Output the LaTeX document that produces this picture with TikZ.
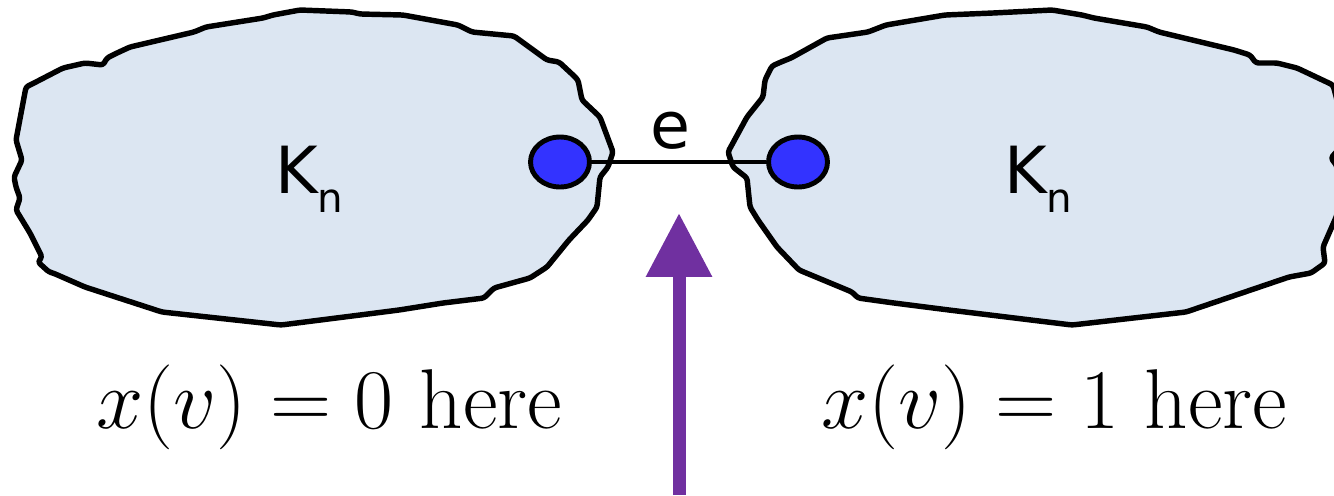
\documentclass[tikz,border=0pt]{standalone}
\usepackage{fix-cm}
\usepackage{fontspec}
\newfontfamily\dejavu{DejaVu Sans}
\usetikzlibrary{arrows.meta,shapes.geometric}
\definecolor{blobfill}{HTML}{DCE6F2}
\definecolor{dotblue}{HTML}{3333FF}
\definecolor{arrowpurple}{HTML}{7030A0}
\begin{document}
\begin{tikzpicture}[x=0.02cm,y=-0.02cm,
  blob/.style={fill=blobfill, draw=black, line width=3.1pt, line join=round, rounded corners=1.5pt},
  vertex/.style={ellipse, draw=black, fill=dotblue, line width=2.8pt, minimum width=1.18cm, minimum height=1.0cm, inner sep=0pt},
  edgeline/.style={draw=black, line width=2.4pt},
  knlabel/.style={inner sep=0pt, anchor=base west, font=\dejavu\fontsize{37}{40}\selectfont},
  mathlabel/.style={inner sep=0pt, anchor=base west, font=\fontsize{48.3}{52}\selectfont},
  pointer/.style={draw=arrowpurple, fill=arrowpurple, line width=0.26cm, -{Triangle[length=1.28cm, width=1.26cm]}}]
\useasboundingbox (0,0) rectangle (1334,495);
% left blob
\draw[blob] (273,15) -- (300,10) -- (352,12) -- (360,14) -- (403,15) -- (458,25) -- (472,32) -- (514,36)
  -- (547,60) -- (559,62) -- (573,75) -- (578,80) -- (582,100) -- (600,117) -- (613,152) -- (608,167)
  -- (600,177) -- (597,207) -- (588,220) -- (569,240) -- (547,267) -- (530,278) -- (494,288) -- (484,298)
  -- (443,303) -- (399,310) -- (360,315) -- (281,325) -- (162,312) -- (85,287) -- (53,273) -- (49,272)
  -- (38,262) -- (42,257) -- (30,233) -- (16,210) -- (20,198) -- (16,187) -- (14,177) -- (22,160)
  -- (16,140) -- (26,87) -- (34,83) -- (63,68) -- (85,63) -- (103,65) -- (107,58) -- (117,53) -- (130,47)
  -- (194,32) -- (206,27) -- (263,18) -- cycle;
% right blob
\draw[blob] (993,13) -- (1052,10) -- (1082,15) -- (1094,18) -- (1147,27) -- (1159,32) -- (1234,50)
  -- (1250,55) -- (1256,63) -- (1277,63) -- (1297,68) -- (1333,85) -- (1337,100) -- (1338,150)
  -- (1331,158) -- (1337,166) -- (1337,215) -- (1323,247) -- (1325,263) -- (1311,273) -- (1289,277)
  -- (1186,312) -- (1072,325) -- (949,310) -- (894,303) -- (858,298) -- (852,292) -- (799,270)
  -- (777,247) -- (758,220) -- (750,207) -- (747,178) -- (733,167) -- (728,152) -- (747,117)
  -- (763,97) -- (765,80) -- (772,66) -- (781,62) -- (791,58) -- (827,38) -- (868,32) -- (886,25)
  -- (945,15) -- cycle;
% vertices and edge
\node[vertex] (dotL) at (560,162) {};
\node[vertex] (dotR) at (798,162) {};
\draw[edgeline] (dotL.east) -- (dotR.west);
\node[knlabel] (elabel) at (650,148) {e};
% K_n labels
\node[knlabel] (knL) at (275,193) {K\raisebox{-0.38cm}{\fontsize{23}{26}\selectfont n}};
\node[knlabel] (knR) at (1004,193) {K\raisebox{-0.38cm}{\fontsize{23}{26}\selectfont n}};
% value labels
\node[mathlabel] (valL) at (96,428) {$x(v) = 0$ here};
\node[mathlabel] (valR) at (821,428) {$x(v) = 1$ here};
% arrow
\coordinate (arrowtail) at (679,495);
\coordinate (arrowtip) at (679,213);
\draw[pointer] (arrowtail) -- (arrowtip);
\end{tikzpicture}
\end{document}
